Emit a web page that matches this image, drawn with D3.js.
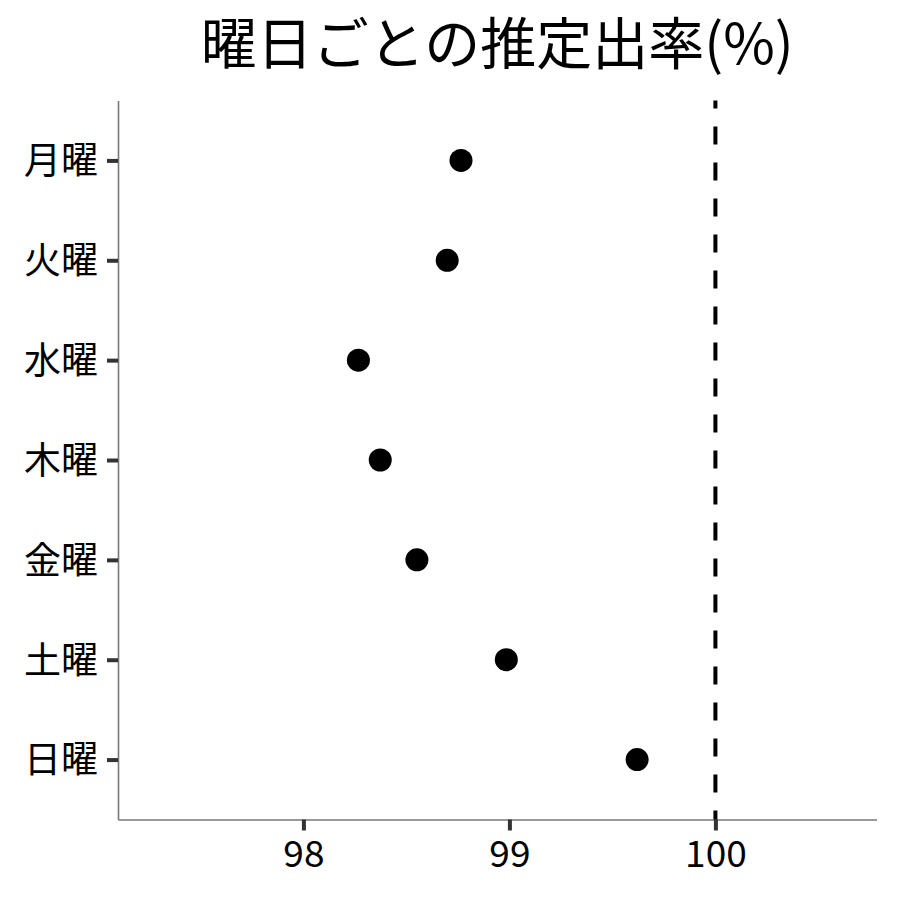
<!DOCTYPE html>
<html>
<head>
<meta charset="utf-8">
<script src="https://cdn.jsdelivr.net/npm/d3@7"></script>
<style>
  body { margin: 0; background: #fff; }
  text { font-family: "Noto Sans CJK JP", "Noto Sans", sans-serif; }
</style>
</head>
<body>
<svg width="900" height="900"></svg>
<script>
// data
var days = ["月曜", "火曜", "水曜", "木曜", "金曜", "土曜", "日曜"];
var rates = [98.765, 98.698, 98.267, 98.373, 98.551, 98.985, 99.620];
var xTicks = [98, 99, 100];
var refValue = 100;
var titleText = "曜日ごとの推定出率(%)";

var data = days.map(function(d, i) { return { day: d, rate: rates[i] }; });

var svg = d3.select("svg");
var plotLeft = 118, plotRight = 876.5, plotTop = 100.5, plotBottom = 819.5;

var x = d3.scaleLinear().domain([97.1, 100.782]).range([plotLeft, plotRight]);
var y = d3.scalePoint().domain(days).range([plotTop, plotBottom]).padding(0.6);

// title
svg.append("text")
    .attr("x", (plotLeft + plotRight) / 2)
    .attr("y", 64)
    .attr("text-anchor", "middle")
    .style("font-size", "56px")
    .style("fill", "#000")
    .text(titleText);

// x axis
var xAxis = svg.append("g")
    .attr("transform", "translate(0," + plotBottom + ")")
    .call(d3.axisBottom(x).tickValues(xTicks).tickFormat(d3.format("d"))
        .tickSize(11).tickPadding(5).tickSizeOuter(0));

// y axis
var yAxis = svg.append("g")
    .attr("transform", "translate(" + plotLeft + ",0)")
    .call(d3.axisLeft(y).tickSize(11).tickPadding(9).tickSizeOuter(0));

[xAxis, yAxis].forEach(function(g) {
    g.select(".domain").attr("stroke", "#777").attr("stroke-width", 1.6);
    g.selectAll(".tick line").attr("stroke", "#333").attr("stroke-width", 4);
    g.selectAll(".tick text")
        .style("font-size", "37px")
        .style("fill", "#000")
        .style("font-family", '"Noto Sans CJK JP", sans-serif');
});
yAxis.selectAll(".tick text").attr("dy", "0.36em");
xAxis.selectAll(".tick text").attr("dy", "0.85em");

// reference line
svg.append("line")
    .attr("x1", x(refValue)).attr("x2", x(refValue))
    .attr("y1", plotTop).attr("y2", plotBottom)
    .attr("stroke", "#000")
    .attr("stroke-width", 4)
    .attr("stroke-dasharray", "18,18")
    .attr("stroke-dashoffset", 10);

// points
svg.selectAll("circle.dot").data(data)
    .enter().append("circle")
    .attr("class", "dot")
    .attr("cx", function(d) { return x(d.rate); })
    .attr("cy", function(d) { return y(d.day); })
    .attr("r", 11.5)
    .style("fill", "#000");
</script>
</body>
</html>
